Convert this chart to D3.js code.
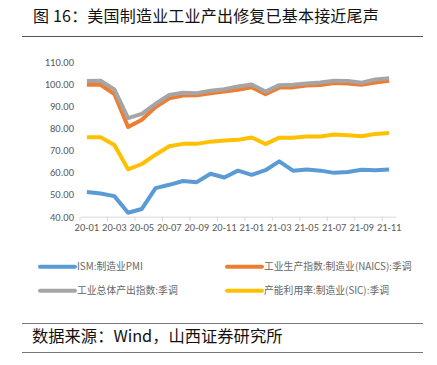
<!DOCTYPE html>
<html><head><meta charset="utf-8">
<script src="https://cdn.jsdelivr.net/npm/d3@7"></script>
<style>
body{margin:0;background:#fff;}
svg{display:block;}
</style></head>
<body>
<script>
const months = ["20-01","20-02","20-03","20-04","20-05","20-06","20-07","20-08","20-09","20-10","20-11","20-12",
"21-01","21-02","21-03","21-04","21-05","21-06","21-07","21-08","21-09","21-10","21-11"];
const ismPMI = [51.2,50.5,49.3,41.8,43.5,52.9,54.4,56.1,55.6,59.4,57.7,60.8,58.9,61.0,65.0,60.8,61.3,60.8,59.8,60.2,61.2,61.0,61.3];
const ipManufacturing = [99.6,99.6,95.4,80.5,83.8,89.5,93.5,94.7,94.8,95.7,96.5,97.3,98.5,95.3,98.3,98.4,99.2,99.5,100.4,100.2,99.6,100.6,101.4];
const ipTotal = [101.3,101.4,97.5,84.5,86.4,91.0,95.0,96.0,95.8,96.9,97.6,98.8,99.7,96.5,99.4,99.6,100.2,100.6,101.4,101.3,100.5,102.0,102.5];
const capUtil = [75.9,75.9,72.4,61.4,63.8,68.0,71.8,72.9,72.9,73.9,74.4,74.7,75.8,72.8,75.7,75.7,76.2,76.2,77.1,76.8,76.3,77.4,77.8];
const yTicks = [40,50,60,70,80,90,100,110];
const seriesNames = ["ISM:制造业PMI","工业生产指数:制造业(NAICS):季调","工业总体产出指数:季调","产能利用率:制造业(SIC):季调"];
const seriesColors = ["#5B9BD5","#ED7D31","#A5A5A5","#FFC000"];
const seriesData = [ismPMI, ipManufacturing, ipTotal, capUtil];

const W=437,H=365;
const svg=d3.select("body").append("svg").attr("width",W).attr("height",H);
const cjk='"Noto Sans CJK SC","Microsoft YaHei",sans-serif';

// title
svg.append("text").attr("x",33).attr("y",22).attr("font-family",cjk).attr("font-size",16)
  .attr("letter-spacing",0.2).attr("fill","#111").text("图 16：美国制造业工业产出修复已基本接近尾声");
svg.append("line").attr("x1",22).attr("x2",423).attr("y1",36.5).attr("y2",36.5).attr("stroke","#555").attr("stroke-width",1.2);

const x=d3.scaleBand().domain(months).range([80,396]).padding(0);
const y=d3.scaleLinear().domain([40,110]).range([216.7,61.7]);

// y labels
const ya=svg.append("g").attr("transform","translate(80,0)")
  .call(d3.axisLeft(y).tickValues(yTicks).tickSize(0).tickPadding(6).tickFormat(d3.format(".2f")));
ya.select(".domain").remove();
ya.selectAll("text").attr("font-family","Calibri,Carlito,'Liberation Sans',sans-serif").attr("font-size",10.5).attr("fill","#595959");

// x axis
const xa=svg.append("g").attr("transform","translate(0,216.7)")
  .call(d3.axisBottom(x).tickValues(months.filter((d,i)=>i%2===0)).tickSize(0).tickPadding(7));
xa.select(".domain").attr("stroke","#d9d9d9");
xa.selectAll("text").attr("font-family","Calibri,Carlito,'Liberation Sans',sans-serif").attr("font-size",10.5).attr("fill","#595959");
xa.selectAll(".tick line").remove();
svg.append("g").selectAll("line").data(months.filter((d,i)=>i%2===0)).join("line")
  .attr("x1",d=>x(d)).attr("x2",d=>x(d)).attr("y1",216.7).attr("y2",221)
  .attr("stroke","#d9d9d9");

const line=d3.line().x((d,i)=>x(months[i])+x.bandwidth()/2).y(d=>y(d));
seriesData.forEach((s,k)=>{
  svg.append("path").datum(s).attr("d",line).attr("fill","none")
    .attr("stroke",seriesColors[k]).attr("stroke-width",4).attr("stroke-linejoin","round");
});

// legend
const legPos=[[40,266.7],[227,266.7],[40,290.7],[227,290.7]];
seriesNames.forEach((n,k)=>{
  const [lx,ly]=legPos[k];
  svg.append("line").attr("x1",lx).attr("x2",lx+35).attr("y1",ly).attr("y2",ly)
    .attr("stroke",seriesColors[k]).attr("stroke-width",4).attr("stroke-linecap","round");
  svg.append("text").attr("x",lx+37).attr("y",ly+3.5).attr("font-family",cjk).attr("font-size",9.8)
    .attr("fill","#666").text(n);
});

// source
svg.append("line").attr("x1",22).attr("x2",423).attr("y1",323.5).attr("y2",323.5).attr("stroke","#777").attr("stroke-width",1.2);
svg.append("text").attr("x",32).attr("y",341.5).attr("font-family",cjk).attr("font-size",16.3)
  .attr("fill","#111").text("数据来源：Wind，山西证券研究所");
svg.append("line").attr("x1",22).attr("x2",423).attr("y1",352.5).attr("y2",352.5).attr("stroke","#777").attr("stroke-width",1.2);
</script>
</body></html>
